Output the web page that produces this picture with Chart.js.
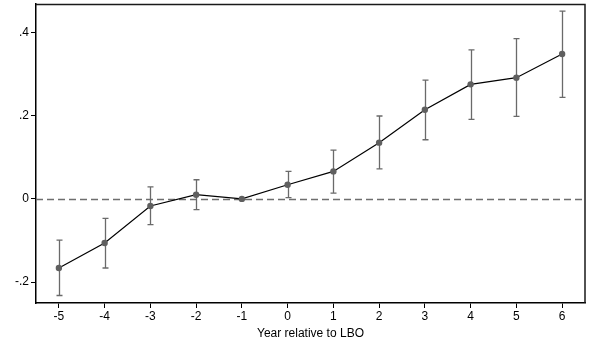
<!DOCTYPE html>
<html>
<head>
<meta charset="utf-8">
<script src="https://cdn.jsdelivr.net/npm/chart.js@4/dist/chart.umd.min.js"></script>
<style>
html,body{margin:0;padding:0;background:#fff;}
#wrap{width:589px;height:349px;position:relative;}
</style>
</head>
<body>
<div id="wrap"><canvas id="c" width="589" height="349"></canvas></div>
<script>
const years = [-5, -4, -3, -2, -1, 0, 1, 2, 3, 4, 5, 6];
const estimates = [-0.166, -0.106, -0.017, 0.010, 0.000, 0.034, 0.066, 0.135, 0.214, 0.275, 0.291, 0.348];
const ciLower = [-0.232, -0.166, -0.062, -0.026, 0.000, 0.003, 0.014, 0.072, 0.142, 0.191, 0.198, 0.244];
const ciUpper = [-0.099, -0.047, 0.029, 0.046, 0.000, 0.066, 0.117, 0.199, 0.285, 0.358, 0.385, 0.451];
const yTickValues = [-0.2, 0, 0.2, 0.4];
const yTickLabels = ['-.2', '0', '.2', '.4'];
const xTitle = 'Year relative to LBO';

const FONT = "'Liberation Sans', Arial, sans-serif";

const extras = {
  id: 'extras',
  beforeDatasetsDraw(chart) {
    const ctx = chart.ctx, xs = chart.scales.x, ys = chart.scales.y, a = chart.chartArea;
    ctx.save();
    ctx.strokeStyle = '#6e6e6e';
    ctx.lineWidth = 1.5;
    ctx.setLineDash([7, 4]);
    const y0 = Math.round(ys.getPixelForValue(0)) + 0.5;
    ctx.beginPath(); ctx.moveTo(a.left, y0); ctx.lineTo(a.right, y0); ctx.stroke();
    ctx.setLineDash([]);
    ctx.strokeStyle = '#6a6a6a';
    ctx.lineWidth = 1.3;
    years.forEach((yr, i) => {
      if (ciUpper[i] === ciLower[i]) return;
      const x = Math.round(xs.getPixelForValue(yr)) + 0.5;
      const yt = ys.getPixelForValue(ciUpper[i]);
      const yb = ys.getPixelForValue(ciLower[i]);
      ctx.beginPath();
      ctx.moveTo(x, yt); ctx.lineTo(x, yb);
      ctx.moveTo(x - 3, yt); ctx.lineTo(x + 3, yt);
      ctx.moveTo(x - 3, yb); ctx.lineTo(x + 3, yb);
      ctx.stroke();
    });
    ctx.restore();
  },
  afterDraw(chart) {
    const ctx = chart.ctx, a = chart.chartArea;
    ctx.save();
    ctx.strokeStyle = '#1a1a1a';
    ctx.lineWidth = 1.5;
    ctx.beginPath();
    ctx.moveTo(a.left, a.top + 0.5); ctx.lineTo(a.right, a.top + 0.5); ctx.lineTo(a.right, a.bottom);
    ctx.stroke();
    ctx.restore();
  }
};

new Chart(document.getElementById('c'), {
  type: 'scatter',
  data: {
    datasets: [{
      data: years.map((x, i) => ({x: x, y: estimates[i]})),
      showLine: true,
      borderColor: '#000',
      borderWidth: 1.2,
      pointRadius: 3.2,
      pointBackgroundColor: '#5f5f5f',
      pointBorderColor: '#5f5f5f',
      pointBorderWidth: 0,
      tension: 0
    }]
  },
  options: {
    responsive: false,
    animation: false,
    devicePixelRatio: 1,
    layout: {padding: {top: 3, right: 1, left: 0, bottom: 0}},
    plugins: {legend: {display: false}, tooltip: {enabled: false}},
    scales: {
      x: {
        type: 'linear', min: -5.5, max: 6.5,
        afterBuildTicks(s) { s.ticks = years.map(v => ({value: v})); },
        afterFit(s) { s.height = 46; s.paddingLeft = 0; s.paddingRight = 0; },
        grid: {drawOnChartArea: false, tickLength: 5, color: '#000', tickColor: '#000', tickWidth: 1},
        border: {color: '#000', width: 1.5},
        ticks: {color: '#000', font: {family: FONT, size: 12}, padding: 1, maxRotation: 0,
          callback: v => String(v)},
        title: {display: true, text: xTitle, color: '#000', font: {family: FONT, size: 12}, padding: {top: 2, bottom: 8}}
      },
      y: {
        type: 'linear', min: -0.25, max: 0.468,
        afterBuildTicks(s) { s.ticks = yTickValues.map(v => ({value: v})); },
        afterFit(s) { s.width = 36; s.paddingTop = 0; s.paddingBottom = 0; },
        grid: {drawOnChartArea: false, tickLength: 5, color: '#000', tickColor: '#000', tickWidth: 1},
        border: {color: '#000', width: 1.5},
        ticks: {color: '#000', font: {family: FONT, size: 12}, padding: 2,
          callback: (v) => { const i = yTickValues.findIndex(t => Math.abs(t - v) < 1e-9); return i >= 0 ? yTickLabels[i] : ''; }}
      }
    }
  },
  plugins: [extras]
});
</script>
</body>
</html>
